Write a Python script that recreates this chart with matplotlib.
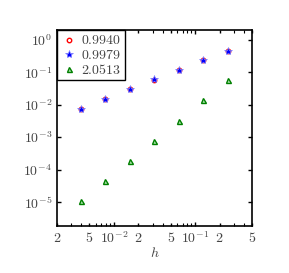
import matplotlib
matplotlib.use("Agg")
import matplotlib.pyplot as plt
from matplotlib.ticker import LogLocator, FixedLocator, FixedFormatter, NullFormatter

plt.rcParams["mathtext.fontset"] = "cm"
plt.rcParams["font.family"] = "DejaVu Serif"

# mesh sizes h = 1/256 ... 1/4
h = [1/256, 1/128, 1/64, 1/32, 1/16, 1/8, 1/4]
err_circ = [0.0074, 0.0150, 0.0302, 0.0605, 0.120, 0.240, 0.462]
err_star = [0.0074, 0.0151, 0.0305, 0.0612, 0.121, 0.243, 0.465]
err_tri = [1.07e-5, 4.4e-5, 1.85e-4, 7.6e-4, 3.2e-3, 1.4e-2, 5.8e-2]
labels = ["$0.9940$", "$0.9979$", "$2.0513$"]

fig = plt.figure(figsize=(2.89, 2.73), dpi=100)
ax = fig.add_axes([57/289, 1 - 226/273, 195/289, 196/273])

ax.plot(h, err_circ, "o", ls="none", ms=3.2, mfc="white", mec="red", mew=1.0, label=labels[0])
ax.plot(h, err_star, "*", ls="none", ms=6, mfc="blue", mec="#8080ff", mew=0.5, label=labels[1])
ax.plot(h, err_tri, "^", ls="none", ms=3.6, mfc="#a8e0a8", mec="green", mew=1.0, label=labels[2])

ax.set_xscale("log")
ax.set_yscale("log")
ax.set_xlim(2e-3, 0.5)
ax.set_ylim(1.8e-6, 2.05)

xt = [2e-3, 5e-3, 1e-2, 2e-2, 5e-2, 1e-1, 2e-1, 5e-1]
xl = ["$2$", "$5$", "$10^{-2}$", "$2$", "$5$", "$10^{-1}$", "$2$", "$5$"]
ax.xaxis.set_major_locator(FixedLocator(xt))
ax.xaxis.set_major_formatter(FixedFormatter(xl))
ax.xaxis.set_minor_locator(LogLocator(base=10, subs=range(2, 10)))
ax.xaxis.set_minor_formatter(NullFormatter())

yt = [1e-5, 1e-4, 1e-3, 1e-2, 1e-1, 1e0]
ax.yaxis.set_major_locator(FixedLocator(yt))
ax.yaxis.set_major_formatter(FixedFormatter(["$10^{-5}$", "$10^{-4}$", "$10^{-3}$", "$10^{-2}$", "$10^{-1}$", "$10^{0}$"]))
ax.yaxis.set_minor_locator(FixedLocator([]))

ax.tick_params(which="both", direction="in", top=True, right=True, labelsize=10, labelcolor="#444444")
ax.tick_params(which="major", length=3, width=1.0)
ax.tick_params(which="minor", length=2, width=0.8)
# only decade ticks are long on x
for t, v in zip(ax.xaxis.get_major_ticks(), xt):
    if v not in (1e-2, 1e-1):
        t.tick1line.set_markersize(2)
        t.tick2line.set_markersize(2)

for s in ax.spines.values():
    s.set_linewidth(1.2)

ax.set_xlabel("$h$", fontsize=10, color="#444444", labelpad=0)

leg = ax.legend(loc="upper left", fontsize=10, fancybox=False, framealpha=1,
                edgecolor="black", borderaxespad=0, handletextpad=0.3,
                handlelength=1.2, borderpad=0.25, labelspacing=0.05)
leg.get_frame().set_linewidth(1.0)
for t in leg.get_texts():
    t.set_color("#444444")

fig.savefig("out.png", dpi=100)
